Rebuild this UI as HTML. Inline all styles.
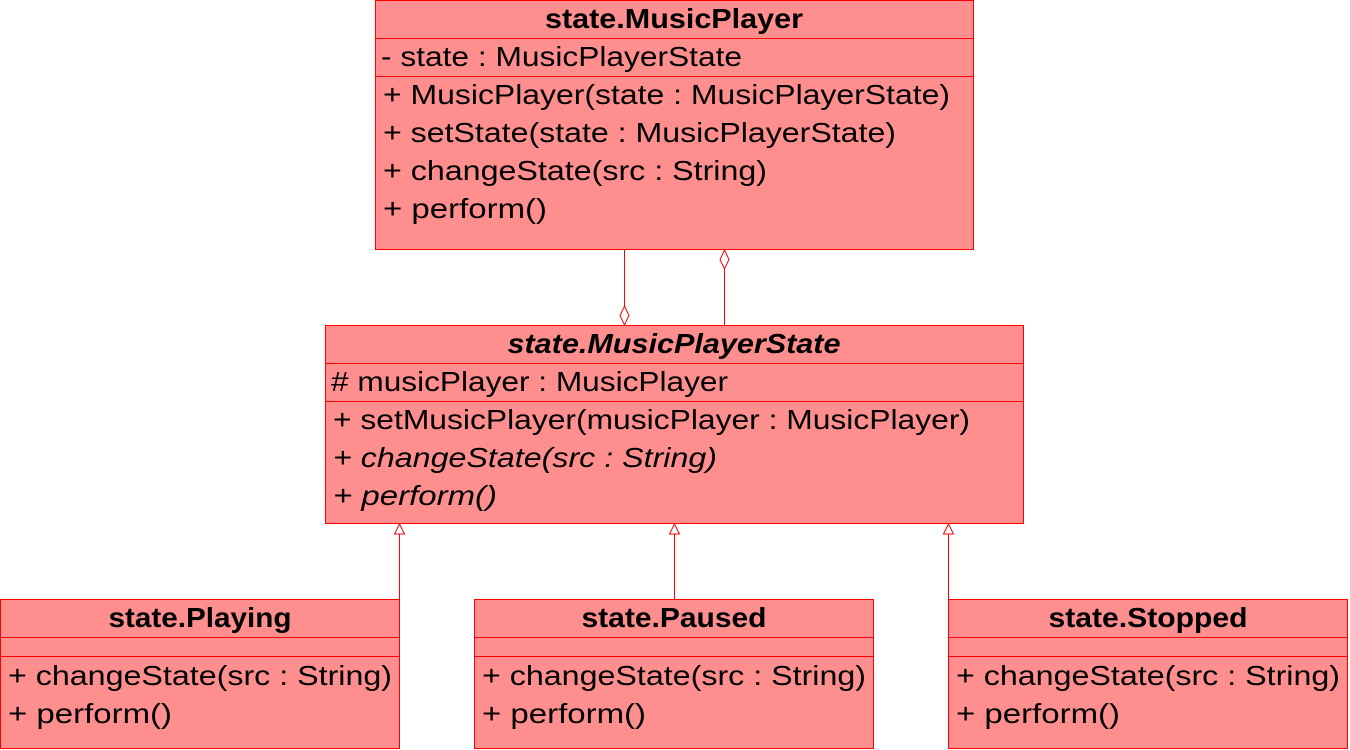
<!DOCTYPE html>
<html><head><meta charset="utf-8"><style>html,body{margin:0;padding:0;background:#fff}svg{display:block}</style></head>
<body>
<svg width="1350" height="750" xmlns="http://www.w3.org/2000/svg" font-family="Liberation Sans, sans-serif" font-size="28">
<g fill="#ff8f8f" stroke="#f00" stroke-width="1">
<rect x="375.5" y="0.5" width="598" height="249"/>
<rect x="325.5" y="325.5" width="698" height="198"/>
<rect x="0.5" y="599.5" width="399" height="149"/>
<rect x="474.5" y="599.5" width="399" height="149"/>
<rect x="948.5" y="599.5" width="399" height="149"/>
</g>
<g stroke="#f00" stroke-width="1" fill="none">
<line x1="375" y1="38.5" x2="973" y2="38.5"/><line x1="375" y1="76.5" x2="973" y2="76.5"/>
<line x1="325" y1="363.5" x2="1023" y2="363.5"/><line x1="325" y1="401.5" x2="1023" y2="401.5"/>
<line x1="0" y1="637.5" x2="399" y2="637.5"/><line x1="0" y1="656.5" x2="399" y2="656.5"/>
<line x1="474" y1="637.5" x2="873" y2="637.5"/><line x1="474" y1="656.5" x2="873" y2="656.5"/>
<line x1="948" y1="637.5" x2="1347" y2="637.5"/><line x1="948" y1="656.5" x2="1347" y2="656.5"/>
<line x1="624.5" y1="250" x2="624.5" y2="306"/>
<polygon points="624.5,306 629,315.5 624.5,325 620,315.5" fill="#fff"/>
<line x1="724.5" y1="269" x2="724.5" y2="325"/>
<polygon points="724.5,250 729,259.5 724.5,269 720,259.5" fill="#fff"/>
<line x1="399.5" y1="534" x2="399.5" y2="599"/><polygon points="399.5,524 404.5,534 394.5,534" fill="#fff"/>
<line x1="674.5" y1="534" x2="674.5" y2="599"/><polygon points="674.5,524 679.5,534 669.5,534" fill="#fff"/>
<line x1="948.5" y1="534" x2="948.5" y2="599"/><polygon points="948.5,524 953.5,534 943.5,534" fill="#fff"/>
</g>
<g fill="#000">
<text x="674" y="28" text-anchor="middle" font-weight="bold" textLength="258" lengthAdjust="spacingAndGlyphs">state.MusicPlayer</text>
<text x="381" y="66" textLength="361" lengthAdjust="spacingAndGlyphs">- state : MusicPlayerState</text>
<text x="383" y="104" textLength="567" lengthAdjust="spacingAndGlyphs">+ MusicPlayer(state : MusicPlayerState)</text>
<text x="383" y="142" textLength="513" lengthAdjust="spacingAndGlyphs">+ setState(state : MusicPlayerState)</text>
<text x="383" y="180" textLength="384" lengthAdjust="spacingAndGlyphs">+ changeState(src : String)</text>
<text x="383" y="218" textLength="164" lengthAdjust="spacingAndGlyphs">+ perform()</text>
<text x="674" y="353" text-anchor="middle" font-weight="bold" font-style="italic" textLength="333" lengthAdjust="spacingAndGlyphs">state.MusicPlayerState</text>
<text x="331" y="391" textLength="397" lengthAdjust="spacingAndGlyphs"># musicPlayer : MusicPlayer</text>
<text x="333" y="429" textLength="637" lengthAdjust="spacingAndGlyphs">+ setMusicPlayer(musicPlayer : MusicPlayer)</text>
<text x="333" y="467" font-style="italic" textLength="384" lengthAdjust="spacingAndGlyphs">+ changeState(src : String)</text>
<text x="333" y="505" font-style="italic" textLength="164" lengthAdjust="spacingAndGlyphs">+ perform()</text>
<text x="200" y="627" text-anchor="middle" font-weight="bold" textLength="183" lengthAdjust="spacingAndGlyphs">state.Playing</text>
<text x="8" y="685" textLength="384" lengthAdjust="spacingAndGlyphs">+ changeState(src : String)</text>
<text x="8" y="723" textLength="164" lengthAdjust="spacingAndGlyphs">+ perform()</text>
<text x="674" y="627" text-anchor="middle" font-weight="bold" textLength="185" lengthAdjust="spacingAndGlyphs">state.Paused</text>
<text x="482" y="685" textLength="384" lengthAdjust="spacingAndGlyphs">+ changeState(src : String)</text>
<text x="482" y="723" textLength="164" lengthAdjust="spacingAndGlyphs">+ perform()</text>
<text x="1148" y="627" text-anchor="middle" font-weight="bold" textLength="199" lengthAdjust="spacingAndGlyphs">state.Stopped</text>
<text x="956" y="685" textLength="384" lengthAdjust="spacingAndGlyphs">+ changeState(src : String)</text>
<text x="956" y="723" textLength="164" lengthAdjust="spacingAndGlyphs">+ perform()</text>
</g>
</svg>
</body></html>
